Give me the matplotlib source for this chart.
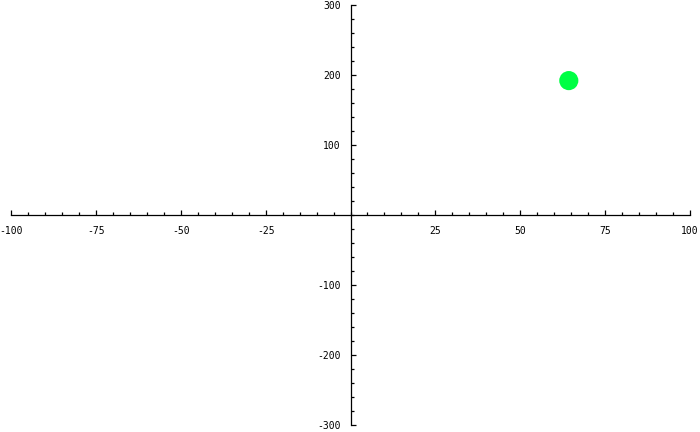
import matplotlib
matplotlib.use("Agg")
import matplotlib.pyplot as plt
import numpy as np

# Data
point_x = [64.3]
point_y = [192]
x_major = [-100, -75, -50, -25, 25, 50, 75, 100]
x_labels = ["-100", "-75", "-50", "-25", "25", "50", "75", "100"]
y_major = [-300, -200, -100, 100, 200, 300]
y_labels = ["-300", "-200", "-100", "100", "200", "300"]

fig = plt.figure(figsize=(7, 4.32), dpi=100)
ax = fig.add_axes([11/700, 1 - 425/432, (690 - 11)/700, (425 - 5)/432])
ax.set_xlim(-100, 100)
ax.set_ylim(-300, 300)

for s in ["top", "right"]:
    ax.spines[s].set_visible(False)
ax.spines["left"].set_position(("data", 0))
ax.spines["bottom"].set_position(("data", 0))
for s in ["left", "bottom"]:
    ax.spines[s].set_linewidth(0.9)
    ax.spines[s].set_color("black")

ax.set_xticks(x_major)
ax.set_xticklabels(x_labels)
ax.set_xticks(np.arange(-100, 101, 5), minor=True)
ax.set_yticks(y_major)
ax.set_yticklabels(y_labels)
ax.set_yticks(np.arange(-300, 301, 20), minor=True)

ax.tick_params(axis="both", which="major", direction="in", length=3.5, width=0.9,
               labelsize=7, colors="black")
ax.tick_params(axis="both", which="minor", direction="in", length=2.5, width=0.9)
ax.tick_params(axis="x", which="major", pad=8)
ax.tick_params(axis="y", which="major", pad=7)
for lbl in ax.get_xticklabels() + ax.get_yticklabels():
    lbl.set_family("DejaVu Sans Mono")

ax.scatter(point_x, point_y, s=190, color="#00ff44", edgecolors="none", zorder=5,
           clip_on=False)

fig.savefig("out.png", dpi=100)
